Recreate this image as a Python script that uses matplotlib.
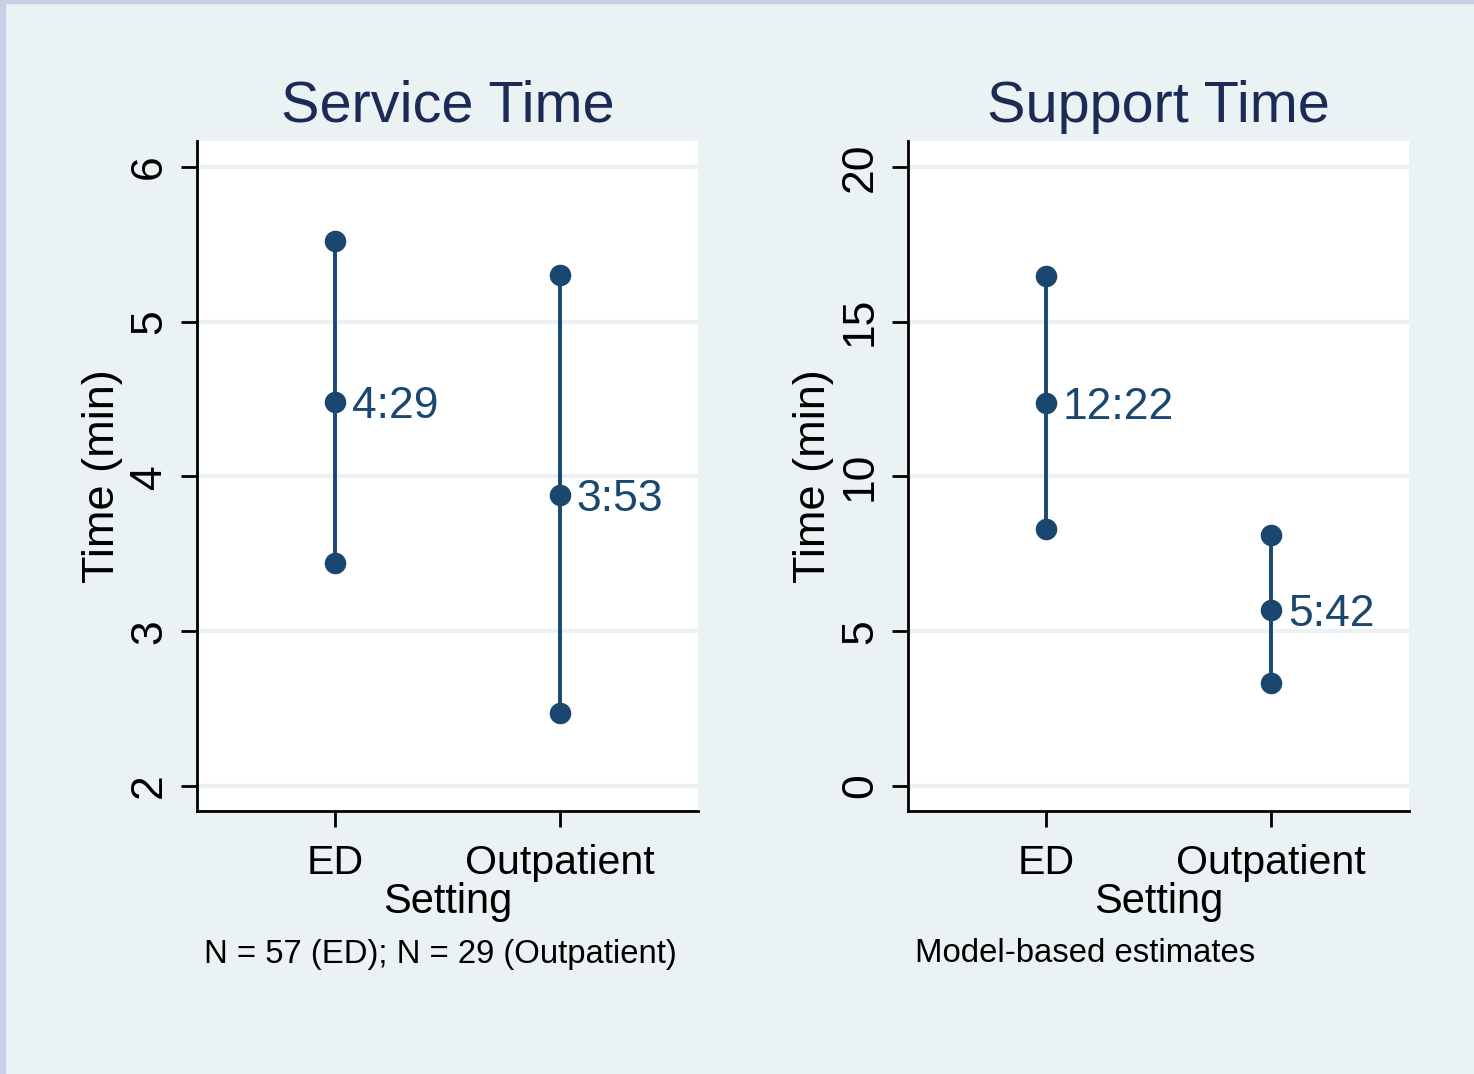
import matplotlib
matplotlib.use("Agg")
import matplotlib.pyplot as plt
from matplotlib.patches import Rectangle

plt.rcParams['font.family'] = ['Liberation Sans', 'DejaVu Sans']

# data
settings = ['ED', 'Outpatient']

service_lo = [3.44, 2.47]
service_mid = [4.483, 3.883]
service_hi = [5.52, 5.30]
service_lbl = ['4:29', '3:53']

support_lo = [8.30, 3.33]
support_mid = [12.367, 5.70]
support_hi = [16.48, 8.11]
support_lbl = ['12:22', '5:42']

service_ticks = [2, 3, 4, 5, 6]
support_ticks = [0, 5, 10, 15, 20]

W, H = 1474, 1074
BG = '#EAF2F3'
NAVY = '#1A476F'
TITLE = '#1C2B55'

fig = plt.figure(figsize=(W / 100, H / 100), dpi=100, facecolor=BG)
# thin lavender border top/left like the export
fig.patches.append(Rectangle((0, 0), 5 / W, 1, transform=fig.transFigure, color='#C8D0E8', zorder=0))
fig.patches.append(Rectangle((0, 1 - 3 / H), 1, 3 / H, transform=fig.transFigure, color='#C8D0E8', zorder=0))


def panel(left_px, lo, mid, hi, lbl, ticks, ylim, title, note):
    ax = fig.add_axes([left_px / W, 1 - 811 / H, 501 / W, 670 / H])
    ax.set_facecolor('white')
    x = list(range(len(settings)))
    ax.vlines(x, lo, hi, color=NAVY, lw=2.8, zorder=3)
    for xs in (lo, mid, hi):
        ax.plot(x, xs, 'o', ms=14.5, color=NAVY, zorder=4, clip_on=False)
    for xi, m, t in zip(x, mid, lbl):
        ax.annotate(t, (xi, m), xytext=(12, 0), textcoords='offset points',
                    va='center_baseline', ha='left', fontsize=32, color=NAVY)
    ax.set_xlim(-0.612, 1.612)
    ax.set_ylim(*ylim)
    ax.set_xticks(x)
    ax.set_xticklabels(settings)
    ax.set_yticks(ticks)
    ax.set_yticklabels([str(t) for t in ticks], rotation=90, va='center')
    ax.grid(axis='y', color=BG, lw=3)
    ax.set_axisbelow(True)
    for s in ('top', 'right'):
        ax.spines[s].set_visible(False)
    for s in ('left', 'bottom'):
        ax.spines[s].set_linewidth(2)
    ax.tick_params(axis='both', direction='out', length=11.5, width=2)
    ax.tick_params(axis='x', labelsize=29.6, pad=12)
    ax.tick_params(axis='y', labelsize=32, pad=8)
    ax.set_ylabel('Time (min)', fontsize=32.5, labelpad=4)
    ax.set_xlabel('Setting', fontsize=30, labelpad=0)
    ax.set_title(title, fontsize=41.5, color=TITLE, pad=14)
    fig.text((left_px + 7) / W, 1 - 954 / H, note, ha='left', va='center', fontsize=23.7)
    return ax


panel(197, service_lo, service_mid, service_hi, service_lbl, service_ticks,
      (1.838, 6.168), 'Service Time', 'N = 57 (ED); N = 29 (Outpatient)')
panel(908, support_lo, support_mid, support_hi, support_lbl, support_ticks,
      (-0.81, 20.84), 'Support Time', 'Model-based estimates')

fig.savefig('out.png', dpi=100, facecolor=BG)
